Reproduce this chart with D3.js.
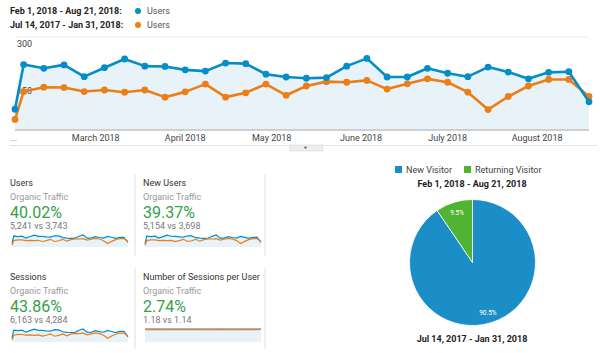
<!DOCTYPE html>
<html>
<head>
<meta charset="utf-8">
<script src="https://cdn.jsdelivr.net/npm/d3@7"></script>
<style>
  html, body { margin: 0; padding: 0; background: #fff; }
  svg { display: block; font-family: Roboto, "Noto Sans", sans-serif; }
</style>
</head>
<body>
<div id="chart"></div>
<script>
// ---- data ----
const weekDates = ['2018-02-01', '2018-02-04', '2018-02-11', '2018-02-18', '2018-02-25',
    '2018-03-04', '2018-03-11', '2018-03-18', '2018-03-25', '2018-04-01', '2018-04-08',
    '2018-04-15', '2018-04-22', '2018-04-29', '2018-05-06', '2018-05-13', '2018-05-20',
    '2018-05-27', '2018-06-03', '2018-06-10', '2018-06-17', '2018-06-24', '2018-07-01',
    '2018-07-08', '2018-07-15', '2018-07-22', '2018-07-29', '2018-08-05', '2018-08-12',
    '2018-08-19'];

const usersCurrent = [67, 211, 199, 210, 172, 201, 229, 206, 205, 194, 190, 216, 214, 180, 171,
    167, 169, 206, 231, 171, 171, 199, 183, 172, 203, 187, 165, 186, 188, 91];
const usersPrevious = [34, 124, 138, 137, 124, 129, 122, 129, 106, 123, 148, 106, 120, 148, 112,
    142, 156, 154, 160, 132, 149, 165, 154, 122, 66, 108, 142, 163, 163, 108];

const newUsersCurrent = [66, 208, 196, 207, 170, 198, 226, 204, 202, 192, 187, 213, 211, 177, 169,
    164, 166, 203, 228, 169, 168, 196, 180, 170, 200, 184, 163, 183, 186, 90];
const newUsersPrevious = [33, 122, 137, 135, 122, 127, 121, 127, 104, 121, 146, 105, 118, 146, 110,
    140, 153, 152, 158, 130, 147, 163, 152, 121, 65, 107, 140, 160, 161, 106];

const sessionsCurrent = [80, 247, 235, 246, 204, 236, 268, 243, 240, 229, 224, 255, 250, 213, 200,
    197, 200, 243, 270, 200, 202, 236, 214, 203, 240, 219, 195, 220, 222, 108];
const sessionsPrevious = [40, 140, 158, 156, 141, 148, 138, 148, 122, 141, 170, 120, 138, 168, 127,
    163, 178, 175, 183, 150, 170, 188, 175, 140, 76, 124, 162, 187, 186, 124];

const perUserCurrent = [1.17, 1.18, 1.18, 1.17, 1.19, 1.18, 1.17, 1.18, 1.18, 1.18, 1.19, 1.18, 1.17,
    1.18, 1.18, 1.18, 1.18, 1.19, 1.17, 1.18, 1.18, 1.18, 1.17, 1.18, 1.18, 1.19, 1.18, 1.18, 1.18, 1.17];
const perUserPrevious = [1.15, 1.14, 1.14, 1.15, 1.14, 1.14, 1.13, 1.14, 1.15, 1.14, 1.14, 1.14, 1.15,
    1.14, 1.14, 1.13, 1.14, 1.14, 1.14, 1.15, 1.14, 1.14, 1.14, 1.13, 1.14, 1.14, 1.15, 1.14, 1.14, 1.16];

const yTicks = [150, 300];
const monthTicks = ['2018-03-01', '2018-04-01', '2018-05-01', '2018-06-01', '2018-07-01', '2018-08-01'];

const legendRanges = ['Feb 1, 2018 - Aug 21, 2018:', 'Jul 14, 2017 - Jan 31, 2018:'];
const metricName = 'Users';

const cardTitles = ['Users', 'New Users', 'Sessions', 'Number of Sessions per User'];
const cardSegment = 'Organic Traffic';
const cardChanges = ['40.02%', '39.37%', '43.86%', '2.74%'];
const cardCompare = ['5,241 vs 3,743', '5,154 vs 3,698', '6,163 vs 4,284', '1.18 vs 1.14'];

const pieLabels = ['New Visitor', 'Returning Visitor'];
const pieValues = [90.5, 9.5];
const pieTitleTop = 'Feb 1, 2018 - Aug 21, 2018';
const pieTitleBottom = 'Jul 14, 2017 - Jan 31, 2018';

// ---- styles ----
const BLUE = '#058dc7';
const PIE_BLUE = '#1b8ec7';
const ORANGE = '#ed7e17';
const GREEN = '#50b432';
const FILL = '#e7f2f9';
const UP = '#34a047';

const parse = d3.timeParse('%Y-%m-%d');
const dates = weekDates.map(parse);

const svg = d3.select('#chart').append('svg')
    .attr('width', 600)
    .attr('height', 353);

// ---- legend ----
legendRanges.forEach((txt, i) => {
    const y = 11 + i * 14;
    svg.append('text')
        .attr('x', 10).attr('y', y).attr('dy', '0.35em')
        .style('font-size', '9px').style('font-weight', '700').style('fill', '#222')
        .text(txt);
    svg.append('circle')
        .attr('cx', 138).attr('cy', y).attr('r', 3)
        .attr('fill', i === 0 ? BLUE : ORANGE);
    svg.append('text')
        .attr('x', 147).attr('y', y).attr('dy', '0.35em')
        .style('font-size', '9px').style('fill', '#555')
        .text(metricName);
});

// ---- main line chart ----
const x = d3.scaleTime()
    .domain([dates[0], dates[dates.length - 1]])
    .range([15, 589]);
const y = d3.scaleLinear().domain([0, 300]).range([130, 37]);

const main = svg.append('g');

main.selectAll('.grid')
    .data(yTicks)
    .enter().append('line')
    .attr('x1', 15).attr('x2', 589)
    .attr('y1', d => y(d)).attr('y2', d => y(d))
    .attr('stroke', '#ececec');

const area = d3.area()
    .x((d, i) => x(dates[i]))
    .y0(y(0))
    .y1(d => y(d));
main.append('path')
    .datum(usersCurrent)
    .attr('d', area)
    .attr('fill', FILL);

main.selectAll('.ylab')
    .data(yTicks)
    .enter().append('text')
    .attr('x', 17).attr('y', d => y(d) + 7).attr('dy', '0.35em')
    .style('font-size', '9px').style('fill', '#444')
    .text(d => d);

main.append('line')
    .attr('x1', 15).attr('x2', 589)
    .attr('y1', y(0)).attr('y2', y(0))
    .attr('stroke', '#a8a8a8');

const line = d3.line()
    .x((d, i) => x(dates[i]))
    .y(d => y(d));

[[usersPrevious, ORANGE], [usersCurrent, BLUE]].forEach(([series, col]) => {
    main.append('path')
        .datum(series)
        .attr('d', line)
        .attr('fill', 'none')
        .attr('stroke', col)
        .attr('stroke-width', 2.6)
        .attr('stroke-linejoin', 'round');
    main.selectAll(null)
        .data(series)
        .enter().append('circle')
        .attr('cx', (d, i) => x(dates[i]))
        .attr('cy', d => y(d))
        .attr('r', 3.4)
        .attr('fill', col);
});

// x axis labels
main.append('text')
    .attr('x', 10).attr('y', 141)
    .style('font-size', '9px').style('fill', '#666')
    .text('...');
main.selectAll('.xlab')
    .data(monthTicks.map(parse))
    .enter().append('text')
    .attr('x', d => x(d)).attr('y', 138).attr('dy', '0.35em')
    .attr('text-anchor', 'middle')
    .style('font-size', '9px').style('fill', '#444')
    .text(d3.timeFormat('%B %Y'));

// divider with little dropdown tab
svg.append('line')
    .attr('x1', 10).attr('x2', 597)
    .attr('y1', 145.5).attr('y2', 145.5)
    .attr('stroke', '#e2e2e2');
svg.append('rect')
    .attr('x', 290).attr('y', 145).attr('width', 33).attr('height', 6)
    .attr('fill', '#eeeeee').attr('stroke', '#d6d6d6').attr('stroke-width', 0.6);
svg.append('path')
    .attr('d', 'M303.5,146.8 L307.5,146.8 L305.5,149 Z')
    .attr('fill', '#666');

// ---- scorecards ----
const cardSeries = [
    [usersCurrent, usersPrevious],
    [newUsersCurrent, newUsersPrevious],
    [sessionsCurrent, sessionsPrevious],
    [perUserCurrent, perUserPrevious]
];

cardTitles.forEach((title, i) => {
    const col = i % 2;
    const row = Math.floor(i / 2);
    const x0 = 10 + col * 133;
    const y0 = 183 + row * 94;
    const g = svg.append('g');

    g.append('text').attr('x', x0).attr('y', y0).attr('dy', '0.35em')
        .style('font-size', '9px').style('fill', '#333').text(title);
    g.append('text').attr('x', x0).attr('y', y0 + 13.5).attr('dy', '0.35em')
        .style('font-size', '9px').style('fill', '#999').text(cardSegment);
    g.append('text').attr('x', x0).attr('y', y0 + 29).attr('dy', '0.35em')
        .style('font-size', '16px').style('fill', UP).text(cardChanges[i]);
    g.append('text').attr('x', x0).attr('y', y0 + 42.5).attr('dy', '0.35em')
        .style('font-size', '9px').style('fill', '#777').text(cardCompare[i]);

    // sparkline
    const [cur, prev] = cardSeries[i];
    const sx = d3.scaleTime()
        .domain([dates[0], dates[dates.length - 1]])
        .range([x0 + 2, x0 + 118]);
    const sTop = row === 0 ? 235 : 329;
    const sBot = row === 0 ? 247 : 342;
    const sy = d3.scaleLinear()
        .domain([0, d3.max(cur.concat(prev))])
        .range([sBot, sTop]);
    g.append('path')
        .datum(cur)
        .attr('d', d3.area().x((d, k) => sx(dates[k])).y0(sBot).y1(d => sy(d)))
        .attr('fill', FILL);
    [[cur, BLUE], [prev, ORANGE]].forEach(([series, c]) => {
        g.append('path')
            .datum(series)
            .attr('d', d3.line().x((d, k) => sx(dates[k])).y(d => sy(d)))
            .attr('fill', 'none')
            .attr('stroke', c)
            .attr('stroke-width', 1.2);
    });
});

// card dividers
[135, 265].forEach(xv => {
    [[174, 256], [268, 349]].forEach(([a, b]) => {
        svg.append('line')
            .attr('x1', xv).attr('x2', xv)
            .attr('y1', a).attr('y2', b)
            .attr('stroke', '#e0e0e0');
    });
});

// ---- pie ----
const pieColors = d3.scaleOrdinal().domain(pieLabels).range([PIE_BLUE, GREEN]);

let lx = 395;
pieLabels.forEach((lab, i) => {
    svg.append('rect')
        .attr('x', lx).attr('y', 166).attr('width', 7).attr('height', 7)
        .attr('fill', pieColors(lab));
    const t = svg.append('text')
        .attr('x', lx + 11).attr('y', 169.5).attr('dy', '0.35em')
        .style('font-size', '9px').style('fill', '#444')
        .text(lab);
    lx += 11 + t.node().getComputedTextLength() + 12;
});

svg.append('text')
    .attr('x', 472).attr('y', 184).attr('dy', '0.35em')
    .attr('text-anchor', 'middle')
    .style('font-size', '9px').style('font-weight', '700').style('fill', '#222')
    .text(pieTitleTop);

svg.append('text')
    .attr('x', 472).attr('y', 339).attr('dy', '0.35em')
    .attr('text-anchor', 'middle')
    .style('font-size', '9px').style('font-weight', '700').style('fill', '#222')
    .text(pieTitleBottom);

const pie = d3.pie().sort(null)(pieValues);
const radius = 63;
const arc = d3.arc().innerRadius(0).outerRadius(radius);
const labelArc = d3.arc().innerRadius(radius * 0.83).outerRadius(radius * 0.83);

const pg = svg.append('g').attr('transform', 'translate(472.5,262.5)');
pg.selectAll('path')
    .data(pie)
    .enter().append('path')
    .attr('d', arc)
    .attr('fill', (d, i) => pieColors(pieLabels[i]))
    .attr('stroke', '#fff')
    .attr('stroke-width', 0.8);

pg.selectAll('.plab')
    .data(pie)
    .enter().append('text')
    .attr('transform', d => `translate(${labelArc.centroid(d)})`)
    .attr('dy', '0.35em')
    .attr('text-anchor', 'middle')
    .style('font-size', '6.5px').style('fill', '#fff')
    .text(d => d.data + '%');
</script>
</body>
</html>
